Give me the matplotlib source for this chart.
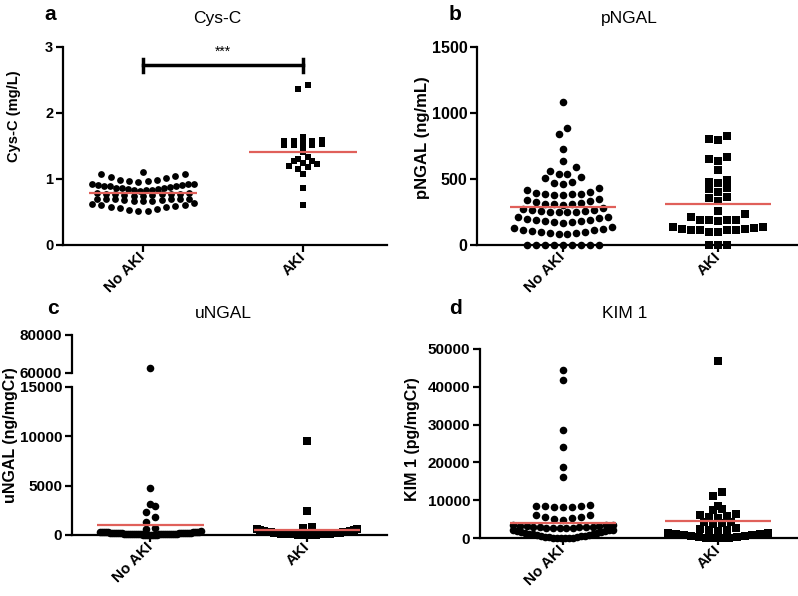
import numpy as np
import matplotlib.pyplot as plt

plt.rcParams['font.family'] = ['Liberation Sans', 'DejaVu Sans']

groups = ['No AKI', 'AKI']
red = '#e0605a'

# ---- values ----
cysc_no = [0.51, 0.52, 0.53, 0.55, 0.56, 0.57, 0.58, 0.59, 0.60, 0.61, 0.62, 0.63,
           0.66, 0.67, 0.67, 0.68, 0.68, 0.69, 0.69, 0.70, 0.70, 0.70, 0.70,
           0.75, 0.75, 0.76, 0.76, 0.77, 0.77, 0.77, 0.78, 0.78, 0.79, 0.79,
           0.82, 0.83, 0.83, 0.84, 0.85, 0.85, 0.86, 0.87, 0.87, 0.88, 0.89, 0.89,
           0.90, 0.91, 0.91, 0.92, 0.93, 0.93,
           0.96, 0.97, 0.97, 0.98, 0.99, 1.01, 1.03, 1.05, 1.07, 1.08, 1.11]
cysc_aki = [0.61, 0.87, 1.08, 1.15, 1.18, 1.20, 1.22, 1.25, 1.27, 1.28, 1.31, 1.34,
            1.41, 1.50, 1.51, 1.52, 1.52, 1.53, 1.56, 1.57, 1.57, 1.58, 1.59, 1.64,
            2.36, 2.42]
cysc_lines = [0.79, 1.41]

pngal_no = [0, 0, 0, 0, 0, 0, 0, 0, 0,
            80, 85, 89, 93, 96, 100, 104, 110, 116, 124, 130, 139,
            169, 172, 176, 180, 183, 188, 192, 197, 203, 209, 214,
            248, 250, 252, 253, 255, 258, 262, 266, 272, 278,
            305, 307, 309, 311, 316, 322, 330, 340, 350,
            379, 381, 383, 385, 390, 394, 404, 419, 429,
            463, 470, 480, 505, 513, 538, 538, 563, 588,
            639, 725, 838, 884, 1086]
pngal_aki = [0, 0, 0,
             99, 99, 110, 110, 116, 116, 120, 120, 128, 134, 139,
             182, 189, 189, 189, 189, 210, 235,
             260, 336, 354, 361, 404, 422, 434, 472, 480, 492,
             568, 636, 655, 664, 795, 803, 826]
pngal_lines = [290, 311]

ungal_no = [12, 15, 22, 28, 31, 37, 44, 47, 53, 58, 61, 66, 70, 77, 80, 86, 92, 95,
            101, 106, 113, 117, 122, 129, 133, 140, 148, 152, 160, 166, 171, 178,
            185, 190, 198, 206, 212, 220, 229, 235, 243, 252, 260, 268, 277, 288,
            296, 305, 316, 327, 339, 355,
            560, 680, 1351, 1791, 2365, 2939, 3111, 4794, 62470]
ungal_aki = [5, 9, 18, 26, 34, 43, 51, 62, 70, 81, 93, 104, 118, 130, 146, 160,
             178, 196, 214, 236, 258, 285, 312, 345, 380, 420, 470, 520, 575, 590,
             676, 845, 2466, 9560]
ungal_lines = [980, 507]

kim_no = [0, 0, 10, 40, 85, 130, 195, 260, 345, 430, 520, 615, 720, 830, 945,
          1050, 1170, 1290, 1400, 1530, 1650, 1770, 1890, 2000, 2100, 2200,
          2600, 2620, 2650, 2700, 2740, 2790, 2840, 2900, 2960, 3020, 3090, 3160,
          3240, 3330, 3440, 3560,
          4760, 5000, 5200, 5450, 5650, 6080, 6080,
          8290, 8300, 8300, 8400, 8400, 8470, 8600,
          16050, 18870, 23990, 28570, 41800, 44440]
kim_aki = [0, 0, 50, 120, 200, 300, 420, 560, 700, 850, 1000, 1150, 1234, 1411,
           1940, 2116, 2116, 2293, 2646,
           3704, 3880, 4321, 4321,
           5202, 5450, 5820, 6085, 6349,
           7407, 7584, 8466, 11111, 12081, 46825]
kim_lines = [4057, 4586]


def swarm(vals, h, gap, mh, dx=0.058, maxw=0.32):
    # group sorted values into rows, lowest value in the middle of each row
    v = sorted(vals)
    rows = []
    for val in v:
        if rows and ((val - rows[-1][-1] <= gap and val - rows[-1][0] <= h)
                     or (len(rows[-1]) == 1 and val - rows[-1][0] < mh)):
            rows[-1].append(val)
        else:
            rows.append([val])
    xs, ys = [], []
    for row in rows:
        n = len(row)
        step = dx if n < 2 else min(dx, 2 * maxw / (n - 1))
        for k, val in enumerate(row):
            if n % 2:
                slot = ((k + 1) // 2) * (-1 if k % 2 else 1)
            else:
                slot = (k // 2 + 0.5) * (-1 if k % 2 == 0 else 1)
            xs.append(slot * step)
            ys.append(val)
    return np.array(xs), np.array(ys)


def style(ax, xlim, fs=11):
    for s in ['top', 'right']:
        ax.spines[s].set_visible(False)
    for s in ['left', 'bottom']:
        ax.spines[s].set_linewidth(1.6)
    ax.tick_params(width=1.6, length=5, pad=2, labelsize=fs)
    for t in ax.get_yticklabels():
        t.set_fontweight('bold')
    ax.set_xlim(*xlim)
    ax.set_xticks([0, 1])
    ax.set_xticklabels(groups, rotation=45, ha='right', va='center',
                       rotation_mode='anchor', fontweight='bold', fontsize=11)


def draw(ax, data, params, lines, ms=(30, 26)):
    for i, (vals, (h, gap, mh)) in enumerate(zip(data, params)):
        x, y = swarm(vals, h, gap, mh)
        ax.scatter(i + x, y, s=ms[i], marker='o' if i == 0 else 's', color='black',
                   linewidths=0, clip_on=False, zorder=3)
        ax.hlines(lines[i], i - 0.34, i + 0.34, color=red, lw=1.6, zorder=4)


fig = plt.figure(figsize=(7.98, 5.96), dpi=100)
W, H = 798, 596


def rect(x0, x1, ytop, ybot):
    return [x0 / W, (H - ybot) / H, (x1 - x0) / W, (ybot - ytop) / H]


# a
ax = fig.add_axes(rect(63, 387, 47, 245))
draw(ax, [cysc_no, cysc_aki], [(0.13, 0.025, 0.065), (0.13, 0.025, 0.065)],
     cysc_lines, ms=(24, 22))
ax.set_ylim(0, 3)
ax.set_yticks([0, 1, 2, 3])
style(ax, (-0.5, 1.525), fs=10.5)
ax.plot([0, 1], [2.72, 2.72], color='black', lw=2.5, clip_on=False)
ax.plot([0, 0], [2.62, 2.82], color='black', lw=2.5, clip_on=False)
ax.plot([1, 1], [2.62, 2.82], color='black', lw=2.5, clip_on=False)
ax.text(0.5, 2.92, '***', ha='center', va='center', fontsize=10)

# b
ax = fig.add_axes(rect(477, 797, 47, 245))
draw(ax, [pngal_no, pngal_aki], [(65, 25, 49), (65, 25, 49)], pngal_lines)
ax.set_ylim(0, 1500)
ax.set_yticks([0, 500, 1000, 1500])
style(ax, (-0.555, 1.51), fs=11.5)

# c (broken axis)
axl = fig.add_axes(rect(72, 387, 387, 535))
axu = fig.add_axes(rect(72, 387, 335, 373))
for i, (vals, (h, gap, mh)) in enumerate(zip([ungal_no, ungal_aki],
                                             [(500, 200, 660), (600, 200, 660)])):
    x, y = swarm(vals, h, gap, mh)
    lo = y <= 15000
    mk = 'o' if i == 0 else 's'
    sz = 30 if i == 0 else 26
    axl.scatter(i + x[lo], y[lo], s=sz, marker=mk, color='black', linewidths=0,
                clip_on=False, zorder=3)
    axu.scatter(i + x[~lo], y[~lo], s=sz, marker=mk, color='black', linewidths=0,
                clip_on=False, zorder=3)
    axl.hlines(ungal_lines[i], i - 0.34, i + 0.34, color=red, lw=1.6, zorder=4)
axl.set_ylim(0, 15000)
axl.set_yticks([0, 5000, 10000, 15000])
style(axl, (-0.5, 1.51))
axu.set_ylim(60000, 80000)
axu.set_yticks([60000, 80000])
style(axu, (-0.5, 1.51))
axu.spines['bottom'].set_visible(False)
axu.set_xticks([])

# d
ax = fig.add_axes(rect(480, 797, 349, 538))
draw(ax, [kim_no, kim_aki], [(2300, 500, 1720), (2300, 500, 1720)], kim_lines)
ax.set_ylim(0, 50000)
ax.set_yticks([0, 10000, 20000, 30000, 40000, 50000])
style(ax, (-0.535, 1.51))

# titles, letters, y labels
for x, y, s in [(217, 18, 'Cys-C'), (629, 18, 'pNGAL'), (223, 313, 'uNGAL'), (625, 313, 'KIM 1')]:
    fig.text(x / W, 1 - y / H, s, ha='center', va='center', fontsize=12.5)
for x, y, s in [(50, 15, 'a'), (455, 15, 'b'), (53, 308, 'c'), (455, 308, 'd')]:
    fig.text(x / W, 1 - y / H, s, ha='center', va='center', fontsize=15, fontweight='bold')
for x, y, s, fs in [(14, 116, 'Cys-C (mg/L)', 10.5), (422, 138, 'pNGAL (ng/mL)', 12),
                    (11, 435, 'uNGAL (ng/mgCr)', 11.5), (412, 439, 'KIM 1 (pg/mgCr)', 11.5)]:
    fig.text(x / W, 1 - y / H, s, ha='center', va='center', rotation=90,
             fontsize=fs, fontweight='bold')

fig.savefig('out.png', dpi=100)
